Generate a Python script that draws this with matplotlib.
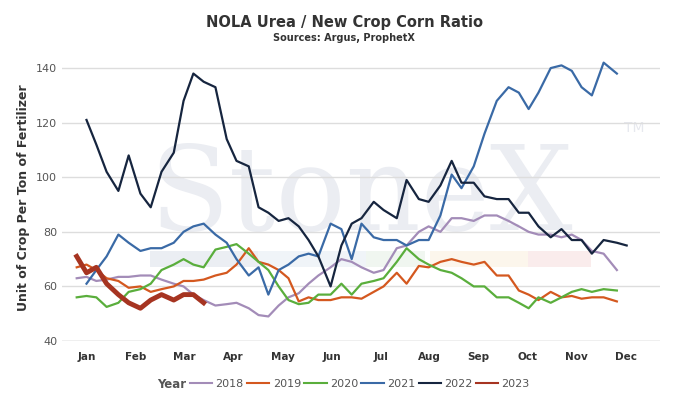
import matplotlib
matplotlib.use("Agg")
import matplotlib.pyplot as plt
from matplotlib.patches import Rectangle
from matplotlib.lines import Line2D

# x positions as fractional month (1 = mid Jan)
grid = [0.80, 1.00, 1.20, 1.41, 1.65, 1.86, 2.10, 2.31, 2.53, 2.78, 2.98, 3.18, 3.39,
        3.63, 3.86, 4.06, 4.31, 4.51, 4.71, 4.92, 5.12, 5.33, 5.53, 5.73, 5.98, 6.20,
        6.41, 6.61, 6.86, 7.06, 7.33, 7.53, 7.78, 7.98, 8.22, 8.45, 8.65, 8.90, 9.12,
        9.37, 9.61, 9.82, 10.02, 10.22, 10.47, 10.69, 10.90, 11.10, 11.31, 11.55, 11.82]
months = ["Jan", "Feb", "Mar", "Apr", "May", "Jun", "Jul", "Aug", "Sep", "Oct", "Nov", "Dec"]

y2018 = [63, 63.5, 62, 62.5, 63.5, 63.5, 64, 64, 62.5, 61, 60, 57, 55, 53, 53.5, 54, 52,
         49.5, 49, 53, 56, 57.5, 61, 64, 67, 70, 69, 67, 65, 66, 74, 75, 80, 82, 80, 85, 85,
         84, 86, 86, 84, 82, 80, 79, 79, 78, 79, 77, 73, 72, 66]
y2019 = [67, 68, 66, 63, 62, 59.5, 60, 58, 59, 60, 62, 62, 62.5, 64, 65, 68, 74, 69, 68,
         66, 63, 54.5, 56, 55, 55, 56, 56, 55.5, 58, 60, 65, 61, 67.5, 67, 69, 70, 69, 68,
         69, 64, 64, 58.5, 57, 55, 58, 56, 56.5, 55.5, 56, 56, 54.5]
y2020 = [56, 56.5, 56, 52.5, 54, 58, 59, 61, 66, 68, 70, 68, 67, 73.5, 74.5, 75.5, 72, 69,
         66, 60, 55, 53.5, 54, 57, 57, 61, 57, 61, 62, 63, 69, 74, 70, 68, 66, 65, 63, 60,
         60, 56, 56, 54, 52, 56, 54, 56, 58, 59, 58, 59, 58.5]
y2021 = [61, 66, 71, 79, 76, 73, 74, 74, 76, 80, 82, 83, 79, 76, 70, 64, 67, 57, 66, 68,
         71, 72, 71, 83, 81, 70, 83, 78, 77, 77, 75, 77, 77, 86, 101, 96, 104, 116, 128, 133,
         131, 125, 131, 140, 141, 139, 133, 130, 142, 138]
y2022 = [121, 112, 102, 95, 108, 94, 89, 102, 109, 128, 138, 135, 133, 114, 106, 104, 89,
         87, 84, 85, 82, 77, 71, 60, 75, 83, 85, 91, 88, 85, 99, 92, 91, 97, 106, 98, 98, 93,
         92, 92, 87, 87, 82, 78, 81, 77, 77, 72, 77, 76, 75]
y2023 = [71, 65, 67, 61, 57, 54, 52, 55, 57, 55, 57, 57, 54]

x2022 = grid[1:] + [12.02]
series = [
    ("2018", grid, y2018, "#a38cb8", 1.6),
    ("2019", grid, y2019, "#d4581f", 1.6),
    ("2020", grid, y2020, "#5aae3c", 1.6),
    ("2021", grid[1:], y2021, "#3a6aa6", 1.6),
    ("2022", x2022, y2022, "#16253f", 1.6),
    ("2023", grid[:13], y2023, "#a63421", 3.5),
]

fig = plt.figure(figsize=(6.88, 4.04), dpi=100)
ax = fig.add_axes([62 / 688, 1 - 341 / 404, 598 / 688, 286 / 404])

# watermark
ax.text(0.5, 0.50, "StoneX", transform=ax.transAxes, ha="center", va="center",
        fontsize=84, family="DejaVu Serif", color="#ebedf2", zorder=0)
ax.text(0.94, 0.73, "TM", transform=ax.transAxes, fontsize=10, color="#e6e8ee", zorder=0)
for x0, w, c in [(2.3, 2.2, "#ebeef3"), (4.5, 2.2, "#f0f4f8"), (6.7, 1.2, "#f0f6f0"),
                 (8.0, 2.0, "#fcf6ec"), (10.0, 1.3, "#faecec")]:
    ax.add_patch(Rectangle((x0, 67), w, 6, color=c, zorder=0, lw=0))

for name, xs, ys, col, lw in series:
    ax.plot(xs, ys, color=col, lw=lw, label=name, zorder=3)

ax.set_xlim(0.5, 12.7)
ax.set_ylim(40, 144.8)
ax.set_yticks([40, 60, 80, 100, 120, 140])
ax.yaxis.grid(True, color="#dddddd", lw=1)
ax.set_axisbelow(True)
ax.set_xticks(range(1, 13))
ax.set_xticklabels(months, fontsize=7.5, fontweight="bold", color="#333333")
ax.tick_params(axis="x", length=0, pad=8)
ax.tick_params(axis="y", length=0, labelsize=8, colors="#555555")
for s in ax.spines.values():
    s.set_visible(False)
ax.axhline(40, color="#cccccc", lw=1)
ax.set_ylabel("Unit of Crop Per Ton of Fertilizer", fontsize=9, fontweight="bold", color="#333333")

fig.text(0.5, 1 - 22 / 404, "NOLA Urea / New Crop Corn Ratio", ha="center", va="center",
         fontsize=10.5, fontweight="bold", color="#333333")
fig.text(0.5, 1 - 38 / 404, "Sources: Argus, ProphetX", ha="center", va="center",
         fontsize=7, fontweight="bold", color="#333333")

fig.text(157 / 688, 1 - 384 / 404, "Year", ha="left", va="center", fontsize=8.5,
         fontweight="bold", color="#555555")
handles = [Line2D([], [], color=col, lw=1.5) for _, _, _, col, _ in series]
leg = fig.legend(handles, [s[0] for s in series], loc="center left",
                 bbox_to_anchor=(190 / 688, 1 - 384 / 404), ncol=6, frameon=False,
                 fontsize=8, handlelength=2, columnspacing=0.3, handletextpad=0.3,
                 borderpad=0, borderaxespad=0)
for t in leg.get_texts():
    t.set_color("#555555")
fig.savefig("out.png", dpi=100)
